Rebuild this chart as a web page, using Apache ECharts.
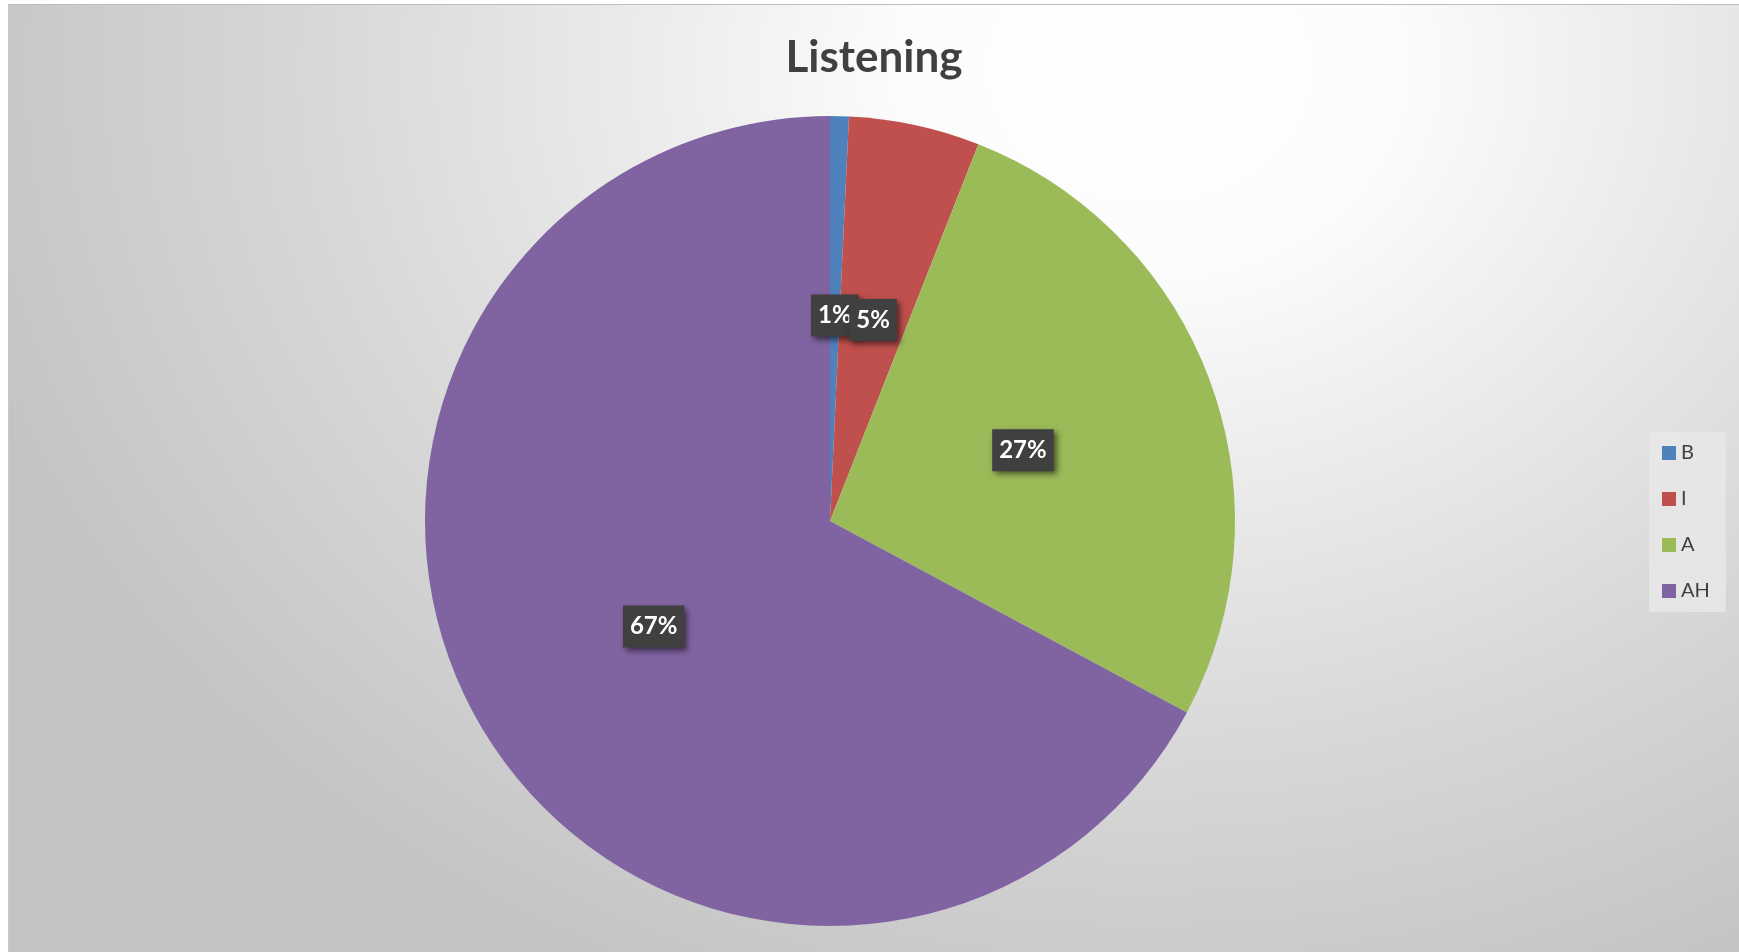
<!DOCTYPE html>
<html>
<head>
<meta charset="utf-8">
<style>
  html, body { margin: 0; padding: 0; background: #ffffff; }
  #wrap { position: relative; width: 1739px; height: 952px; overflow: hidden; }
  #bg {
    position: absolute; left: 8px; top: 4px; width: 1731px; height: 948px;
    box-sizing: border-box;
    border-top: 1px solid #bdbdbd; border-left: 1px solid #c8c8c8;
    background: radial-gradient(ellipse 1220px 1000px at 1140px 63px,
      #ffffff 0%, #fcfcfc 20%, #ececec 41%, #d8d8d8 68%, #c4c4c4 100%);
  }
  #chart { position: absolute; left: 0; top: 0; width: 1739px; height: 952px; }
</style>
<script src="https://cdn.jsdelivr.net/npm/echarts@6/dist/echarts.min.js"></script>
</head>
<body>
<div id="wrap">
  <div id="bg"></div>
  <div id="chart"></div>
</div>
<script>
const titleText = 'Listening';
const categories = ['B', 'I', 'A', 'AH'];
const values = [1, 7, 36, 90];
const colors = ['#4f81bd', '#c0504d', '#9bbb59', '#8064a2'];

const chart = echarts.init(document.getElementById('chart'));

const option = {
  animation: false,
  backgroundColor: 'transparent',
  title: {
    text: titleText,
    left: 869,
    top: 31,
    textAlign: 'center',
    textStyle: {
      fontFamily: 'Lato',
      fontWeight: 'bold',
      fontSize: 44,
      color: '#404040'
    }
  },
  legend: {
    orient: 'vertical',
    left: 1649,
    top: 432,
    padding: [11, 16, 11, 13],
    backgroundColor: 'rgba(232,232,232,0.85)',
    itemWidth: 14,
    itemHeight: 14,
    itemGap: 26,
    icon: 'rect',
    data: categories,
    textStyle: {
      fontFamily: 'Lato',
      fontSize: 20,
      color: '#404040'
    }
  },
  series: [{
    type: 'pie',
    center: [830, 521],
    radius: 405,
    startAngle: 90,
    clockwise: true,
    avoidLabelOverlap: false,
    minShowLabelAngle: 0,
    labelLayout: { hideOverlap: false },
    itemStyle: { borderWidth: 0 },
    label: {
      show: true,
      position: 'inside',
      formatter: function (p) { return Math.round(p.percent) + '%'; },
      fontFamily: 'Lato',
      fontWeight: 'bold',
      fontSize: 24,
      lineHeight: 22,
      color: '#ffffff',
      backgroundColor: '#404040',
      padding: [10, 7],
      shadowColor: 'rgba(0,0,0,0.55)',
      shadowBlur: 6,
      shadowOffsetX: 3,
      shadowOffsetY: 3
    },
    labelLine: { show: false },
    emphasis: { disabled: true },
    data: categories.map(function (c, i) {
      return { name: c, value: values[i], itemStyle: { color: colors[i] } };
    })
  }]
};

chart.setOption(option);
</script>
</body>
</html>
